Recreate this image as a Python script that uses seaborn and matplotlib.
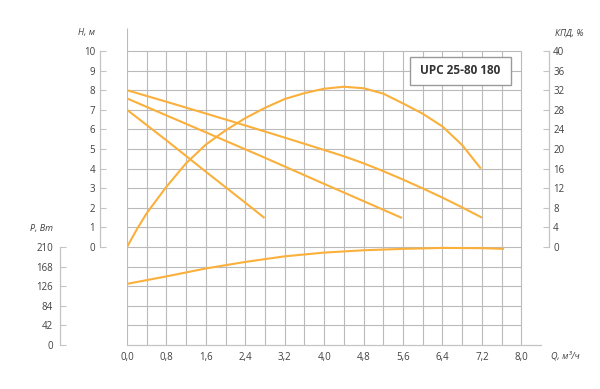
import matplotlib
matplotlib.use("Agg")
import matplotlib.pyplot as plt
import seaborn as sns
import pandas as pd
from matplotlib.patches import Rectangle

# ---------------- data ----------------
q_h1 = [0.0, 0.8, 1.6, 2.4, 3.2, 4.0, 4.4, 4.8, 5.2, 5.6, 6.0, 6.4, 6.8, 7.2]
h1 = [8.0, 7.41, 6.81, 6.20, 5.58, 4.95, 4.63, 4.27, 3.87, 3.44, 2.99, 2.52, 2.02, 1.5]

q_h2 = [0.0, 2.8, 4.0, 5.58]
h2 = [7.58, 4.55, 3.22, 1.48]

q_h3 = [0.0, 0.8, 1.6, 2.4, 2.79]
h3 = [7.0, 5.44, 3.84, 2.26, 1.48]

q_eff = [0.0, 0.2, 0.4, 0.8, 1.2, 1.6, 2.0, 2.4, 2.8, 3.2, 3.6, 4.0, 4.4,
         4.8, 5.2, 5.6, 6.0, 6.4, 6.8, 7.18]
eff = [0.0, 3.6, 6.9, 12.3, 17.1, 20.9, 23.8, 26.3, 28.4, 30.2, 31.4, 32.3,
       32.7, 32.4, 31.3, 29.3, 27.2, 24.6, 20.8, 16.0]

q_p = [0.0, 0.8, 1.6, 2.4, 3.2, 4.0, 4.8, 5.6, 6.4, 7.2, 7.65]
p = [131, 147, 164, 178, 190, 198, 203, 206, 208, 207.5, 206]

x_ticks = [0.0, 0.8, 1.6, 2.4, 3.2, 4.0, 4.8, 5.6, 6.4, 7.2, 8.0]
h_ticks = [0, 1, 2, 3, 4, 5, 6, 7, 8, 9, 10]
eff_ticks = [0, 4, 8, 12, 16, 20, 24, 28, 32, 36, 40]
p_ticks = [0, 42, 84, 126, 168, 210]

title_text = "UPC 25-80 180"

# ---------------- style ----------------
sns.set_style("white")
plt.rcParams["font.family"] = ["Open Sans", "DejaVu Sans"]
plt.rcParams["lines.solid_joinstyle"] = "round"
plt.rcParams["lines.solid_capstyle"] = "butt"
TXT = "#404040"
GRID = "#bababa"
SPINE = "#c4c4c4"
LINE = "#FBB03B"
LW = 1.5
FS = 7

W, H = 600, 389
fig = plt.figure(figsize=(6.0, 3.89), dpi=100)

def fx(px):
    return px / W

def fy(py):
    return 1 - py / H

# main axes: x 0..8.4 -> px 127..541 ; H -5..11.173 -> px 345..28
ax = fig.add_axes([fx(127), fy(345), (541 - 127) / W, (345 - 28) / H])
ax.set_facecolor("none")
ax.set_xlim(0, 8.4)
hmin, hmax = -5, 11.173
ax.set_ylim(hmin, hmax)

# grid
for yv in range(-4, 11):
    ax.hlines(yv, 0, 8.0, color=GRID, lw=0.8, zorder=1)
for i in range(1, 21):
    ax.vlines(i * 0.4, hmin, 10, color=GRID, lw=0.8, zorder=1)
ax.vlines(0, hmin, hmax, color=GRID, lw=0.8, zorder=1)

# H curves
df1 = pd.DataFrame({"Q": q_h1, "H": h1})
df2 = pd.DataFrame({"Q": q_h2, "H": h2})
df3 = pd.DataFrame({"Q": q_h3, "H": h3})
for d in (df1, df2, df3):
    sns.lineplot(data=d, x="Q", y="H", ax=ax, color=LINE, lw=LW,
                 estimator=None, sort=False, zorder=3)

# spines of main axes
for s in ("top", "right"):
    ax.spines[s].set_visible(False)
ax.spines["bottom"].set_color(SPINE)
ax.spines["bottom"].set_linewidth(0.9)
ax.spines["left"].set_position(("axes", (100 - 127) / 414))
ax.spines["left"].set_bounds(0, 10)
ax.spines["left"].set_color(SPINE)
ax.spines["left"].set_linewidth(0.9)
ax.set_yticks(h_ticks)
ax.set_yticklabels([str(v) for v in h_ticks])
ax.tick_params(axis="y", direction="in", length=4, width=0.8, color=SPINE,
               labelsize=FS, labelcolor=TXT, pad=3.5)
ax.set_xticks(x_ticks)
ax.set_xticklabels([f"{v:.1f}".replace(".", ",") for v in x_ticks])
ax.tick_params(axis="x", length=0, labelsize=FS, labelcolor=TXT, pad=5)
ax.set_xlabel("")
ax.set_ylabel("")

# efficiency axis (right)
axe = ax.twinx()
axe.set_ylim(hmin * 4, hmax * 4)
dfe = pd.DataFrame({"Q": q_eff, "KPD": eff})
sns.lineplot(data=dfe, x="Q", y="KPD", ax=axe, color=LINE, lw=LW,
             estimator=None, sort=False, zorder=3)
for s in ("top", "left", "bottom"):
    axe.spines[s].set_visible(False)
axe.spines["right"].set_position(("axes", (549 - 127) / 414))
axe.spines["right"].set_bounds(0, 40)
axe.spines["right"].set_color(SPINE)
axe.spines["right"].set_linewidth(0.9)
axe.set_yticks(eff_ticks)
axe.set_yticklabels([str(v) for v in eff_ticks])
axe.tick_params(axis="y", direction="in", length=4, width=0.8, color=SPINE,
                labelsize=FS, labelcolor=TXT, pad=3)
axe.set_ylabel("")

# power axis (far left)
axp = ax.twinx()
axp.set_ylim((hmin + 5) * 42, (hmax + 5) * 42)
dfp = pd.DataFrame({"Q": q_p, "P": p})
sns.lineplot(data=dfp, x="Q", y="P", ax=axp, color=LINE, lw=LW,
             estimator=None, sort=False, zorder=3)
for s in ("top", "right", "bottom"):
    axp.spines[s].set_visible(False)
axp.spines["left"].set_visible(True)
axp.yaxis.set_ticks_position("left")
axp.yaxis.set_label_position("left")
axp.spines["left"].set_position(("axes", (59.5 - 127) / 414))
axp.spines["left"].set_bounds(0, 210)
axp.spines["left"].set_color(SPINE)
axp.spines["left"].set_linewidth(0.9)
axp.set_yticks(p_ticks)
axp.set_yticklabels([str(v) for v in p_ticks])
axp.tick_params(axis="y", direction="in", length=4, width=0.8, color=SPINE,
                labelsize=FS, labelcolor=TXT, pad=4.5)
axp.set_ylabel("")
ax.set_xlim(0, 8.4)

# axis titles
kw = dict(fontsize=6.5, color=TXT, style="italic", ha="center", va="center")
fig.text(fx(86), fy(33), "H, м", **kw)
fig.text(fx(569), fy(33), "КПД, %", **kw)
fig.text(fx(41), fy(228), "P, Вт", **kw)
fig.text(fx(565), fy(356), "Q, м³/ч", **kw)

# model box
box = Rectangle((fx(410), fy(85)), fx(511) - fx(410), fy(57) - fy(85),
                transform=fig.transFigure, facecolor="white",
                edgecolor="#9a9a9a", lw=1.0, zorder=10)
fig.patches.append(box)
fig.text(fx(460.5), fy(71), title_text, fontsize=8.5, fontweight="bold",
         color="#333333", ha="center", va="center", zorder=11)

fig.savefig("out.png", dpi=100)
